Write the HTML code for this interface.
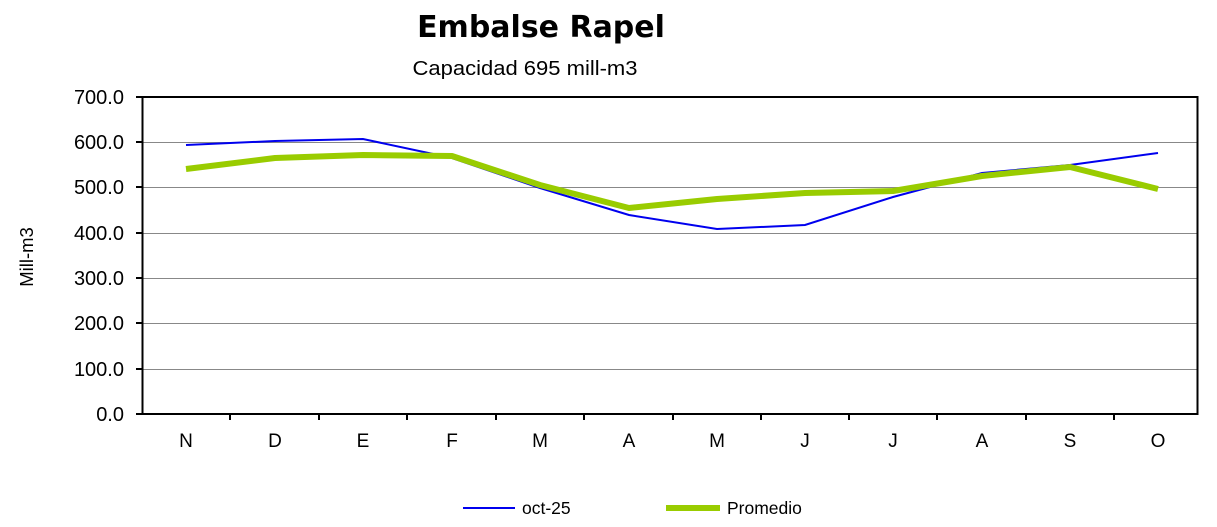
<!DOCTYPE html>
<html><head><meta charset="utf-8"><style>body{margin:0;background:#fff}</style></head><body>
<svg width="1217" height="522" xmlns="http://www.w3.org/2000/svg" font-family="Liberation Sans, Arial, sans-serif">
<rect width="1217" height="522" fill="#fff"/>
<text x="541" y="37" text-anchor="middle" font-family="DejaVu Sans, Verdana, sans-serif" font-weight="bold" font-size="30">Embalse Rapel</text>
<text x="525" y="75" text-anchor="middle" font-size="20" textLength="225" lengthAdjust="spacingAndGlyphs">Capacidad 695 mill-m3</text>
<g stroke="#888" stroke-width="1">
<line x1="142" x2="1198" y1="142.5" y2="142.5"/>
<line x1="142" x2="1198" y1="187.5" y2="187.5"/>
<line x1="142" x2="1198" y1="233.5" y2="233.5"/>
<line x1="142" x2="1198" y1="278.5" y2="278.5"/>
<line x1="142" x2="1198" y1="323.5" y2="323.5"/>
<line x1="142" x2="1198" y1="369.5" y2="369.5"/>
</g>
<rect x="142.5" y="97" width="1055" height="317" fill="none" stroke="#000" stroke-width="2"/>
<g stroke="#000" stroke-width="2">
<line x1="136" x2="142" y1="97" y2="97"/><line x1="136" x2="142" y1="142" y2="142"/><line x1="136" x2="142" y1="187" y2="187"/><line x1="136" x2="142" y1="233" y2="233"/><line x1="136" x2="142" y1="278" y2="278"/><line x1="136" x2="142" y1="323" y2="323"/><line x1="136" x2="142" y1="369" y2="369"/><line x1="136" x2="142" y1="414" y2="414"/>
<line x1="230" x2="230" y1="414" y2="420"/><line x1="319" x2="319" y1="414" y2="420"/><line x1="407" x2="407" y1="414" y2="420"/><line x1="496" x2="496" y1="414" y2="420"/><line x1="584" x2="584" y1="414" y2="420"/><line x1="673" x2="673" y1="414" y2="420"/><line x1="761" x2="761" y1="414" y2="420"/><line x1="849" x2="849" y1="414" y2="420"/><line x1="937" x2="937" y1="414" y2="420"/><line x1="1026" x2="1026" y1="414" y2="420"/><line x1="1114" x2="1114" y1="414" y2="420"/>
</g>
<g font-size="20" text-anchor="end">
<text x="124" y="104">700.0</text><text x="124" y="149">600.0</text><text x="124" y="194">500.0</text><text x="124" y="240">400.0</text><text x="124" y="285">300.0</text><text x="124" y="330">200.0</text><text x="124" y="376">100.0</text><text x="124" y="421">0.0</text>
</g>
<g font-size="19" text-anchor="middle">
<text x="186" y="447">N</text><text x="275" y="447">D</text><text x="363" y="447">E</text><text x="452" y="447">F</text><text x="540" y="447">M</text><text x="629" y="447">A</text><text x="717" y="447">M</text><text x="805" y="447">J</text><text x="893" y="447">J</text><text x="982" y="447">A</text><text x="1070" y="447">S</text><text x="1158" y="447">O</text>
</g>
<text transform="translate(33,257) rotate(-90)" text-anchor="middle" font-size="18.5">Mill-m3</text>
<polyline fill="none" stroke="#0000ee" stroke-width="2" points="186,145 275,141 363,139 452,158 540,188 629,215 717,229 805,225 893,197 982,173 1070,165 1158,153"/>
<polyline fill="none" stroke="#99cc00" stroke-width="6" stroke-linejoin="round" points="186,169 275,158 363,155 452,156 540,185 629,208 717,199 805,193 893,191 982,176 1070,167 1158,189"/>
<line x1="463" x2="515" y1="508" y2="508" stroke="#0000ee" stroke-width="2"/>
<text x="522" y="514" font-size="17.5">oct-25</text>
<line x1="666" x2="720" y1="508" y2="508" stroke="#99cc00" stroke-width="6"/>
<text x="727" y="514" font-size="17.5">Promedio</text>
</svg>
</body></html>
